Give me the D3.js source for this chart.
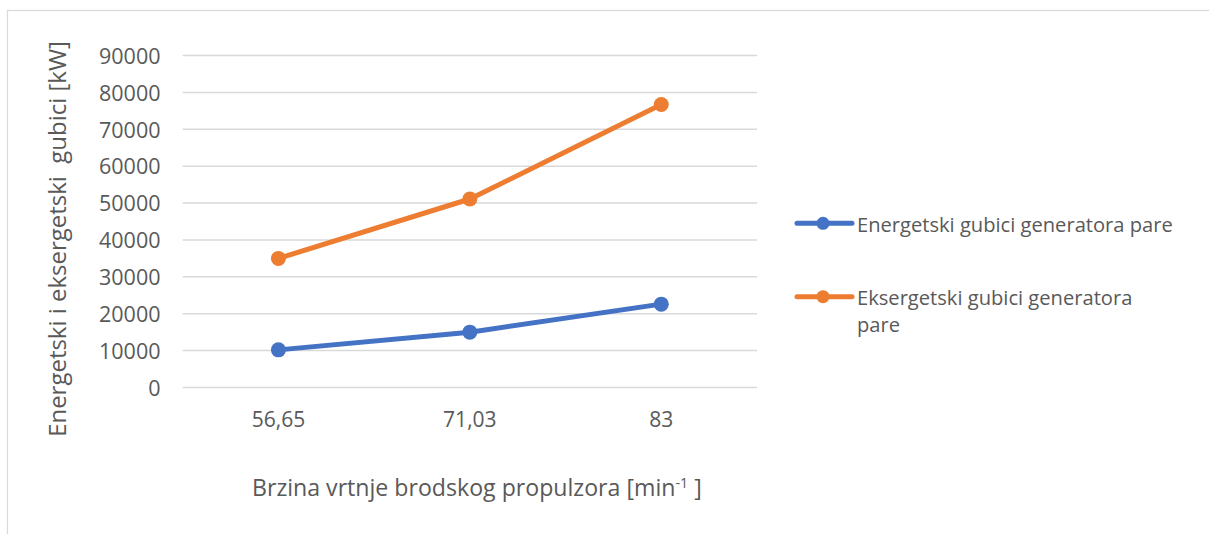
<!DOCTYPE html>
<html>
<head>
<meta charset="utf-8">
<script src="https://cdn.jsdelivr.net/npm/d3@7"></script>
<style>
  html, body { margin: 0; padding: 0; background: #fff; }
  svg { display: block; }
  text { font-family: "Open Sans", sans-serif; fill: #595959; }
</style>
</head>
<body>
<svg id="chart" width="1209" height="534"></svg>
<script>
const categories = ["56,65", "71,03", "83"];
const energetskiValues = [10200, 15000, 22600];
const eksergetskiValues = [35000, 51100, 76700];
const yTicks = [0, 10000, 20000, 30000, 40000, 50000, 60000, 70000, 80000, 90000];
const seriesNames = ["Energetski gubici generatora pare", "Eksergetski gubici generatora pare"];
const seriesColors = ["#4472C4", "#ED7D31"];
const yTitle = "Energetski i eksergetski  gubici [kW]";
const xTitleMain = "Brzina vrtnje brodskog propulzora [min";
const xTitleSup = "-1";
const xTitleEnd = " ]";

const svg = d3.select("#chart");
const W = 1209, H = 534;

// chart border
svg.append("rect")
  .attr("x", 7.5).attr("y", 10.5)
  .attr("width", W + 20).attr("height", H + 20)
  .attr("fill", "#fff").attr("stroke", "#d9d9d9").attr("stroke-width", 1.2);

const x = d3.scaleBand().domain(categories).range([182.7, 757]);
const y = d3.scaleLinear().domain([0, 90000]).range([387.5, 55.5]);

// gridlines
svg.append("g").selectAll("line").data(yTicks).join("line")
  .attr("x1", x.range()[0]).attr("x2", x.range()[1])
  .attr("y1", d => y(d)).attr("y2", d => y(d))
  .attr("stroke", "#d9d9d9").attr("stroke-width", 1.5);

// y axis labels
const yAxis = d3.axisLeft(y).tickValues(yTicks).tickSize(0).tickPadding(0).tickFormat(d => String(d));
const gy = svg.append("g").attr("transform", "translate(160.5,0)").call(yAxis);
gy.select(".domain").remove();
gy.selectAll("text").attr("font-size", 21.5).attr("fill", "#595959")
  .style("font-family", '"Open Sans", sans-serif').attr("dy", "0.36em").attr("x", 0);

// x axis labels
const xAxis = d3.axisBottom(x).tickSize(0).tickPadding(0);
const gx = svg.append("g").attr("transform", "translate(0,426.5)").call(xAxis);
gx.select(".domain").remove();
gx.selectAll("text").attr("font-size", 21).attr("fill", "#595959")
  .style("font-family", '"Open Sans", sans-serif').attr("dy", 0).attr("y", 0);

// lines
const series = [energetskiValues, eksergetskiValues];
const line = d3.line().x((d, i) => x(categories[i]) + x.bandwidth() / 2).y(d => y(d));
series.forEach((vals, si) => {
  svg.append("path").datum(vals)
    .attr("d", line).attr("fill", "none")
    .attr("stroke", seriesColors[si]).attr("stroke-width", 5)
    .attr("stroke-linejoin", "round").attr("stroke-linecap", "round");
  svg.append("g").selectAll("circle").data(vals).join("circle")
    .attr("cx", (d, i) => x(categories[i]) + x.bandwidth() / 2)
    .attr("cy", d => y(d)).attr("r", 7.5)
    .attr("fill", seriesColors[si]);
});

// fit helper
function fit(sel, targetWidth) {
  const w = sel.node().getComputedTextLength();
  const fs = parseFloat(sel.attr("font-size"));
  sel.attr("font-size", fs * targetWidth / w);
}

// y title
const yt = svg.append("text")
  .attr("transform", "translate(66,239) rotate(-90)")
  .attr("text-anchor", "middle").attr("font-size", 20)
  .style("white-space", "pre").text(yTitle);
fit(yt, 396);

// x title
const xt = svg.append("text").attr("x", 252).attr("y", 496).attr("font-size", 21).style("white-space", "pre");
const xtMain = xt.append("tspan").text(xTitleMain);
xt.append("tspan").attr("font-size", 13).attr("dy", -8).text(xTitleSup);
xt.append("tspan").attr("dy", 8).text(xTitleEnd);
{
  const w = xt.node().getComputedTextLength();
  xt.attr("font-size", 21 * 450 / w);
  xt.select("tspan:nth-child(2)").attr("font-size", 13 * 450 / w);
}

// legend
const leg = svg.append("g");
const legY = [223.3, 296.7];
seriesNames.forEach((name, i) => {
  leg.append("line").attr("x1", 797).attr("x2", 852).attr("y1", legY[i]).attr("y2", legY[i])
    .attr("stroke", seriesColors[i]).attr("stroke-width", 5).attr("stroke-linecap", "round");
  leg.append("circle").attr("cx", 823).attr("cy", legY[i]).attr("r", 6.5).attr("fill", seriesColors[i]);
});
const l1 = leg.append("text").attr("x", 857).attr("y", 231.5).attr("font-size", 20.5).text(seriesNames[0]);
fit(l1, 316);
const words = seriesNames[1].split(" ");
const l2 = leg.append("text").attr("x", 857).attr("y", 305).attr("font-size", l1.attr("font-size"));
l2.append("tspan").attr("x", 857).text(words.slice(0, 3).join(" "));
l2.append("tspan").attr("x", 857).attr("dy", 27).text(words.slice(3).join(" "));
</script>
</body>
</html>
